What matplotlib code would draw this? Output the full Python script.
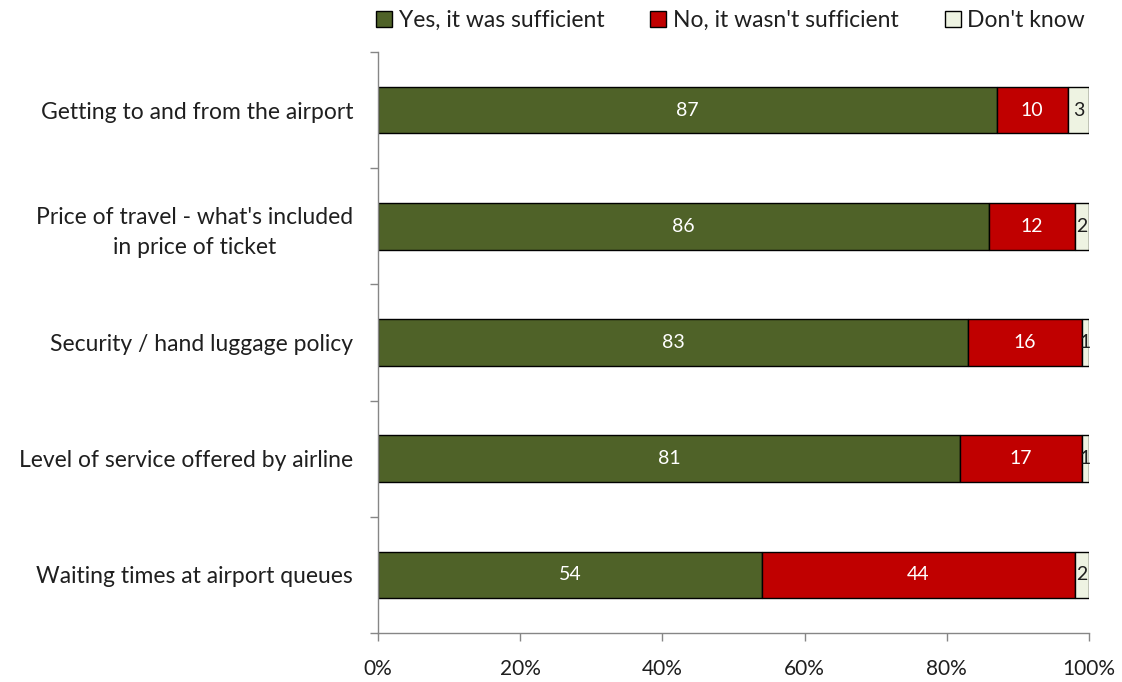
import matplotlib
matplotlib.use('Agg')
import matplotlib.pyplot as plt
import numpy as np

plt.rcParams['font.family'] = ['Lato', 'DejaVu Sans']

categories = ['Getting to and from the airport',
              "Price of travel - what's included\nin price of ticket",
              'Security / hand luggage policy',
              'Level of service offered by airline',
              'Waiting times at airport queues']
yes_vals = [87, 86, 83, 81, 54]
no_vals = [10, 12, 16, 17, 44]
dk_vals = [3, 2, 1, 1, 2]
series_names = ['Yes, it was sufficient', "No, it wasn't sufficient", "Don't know"]
x_ticks = [0, 20, 40, 60, 80, 100]

colors = ['#4F6228', '#C00000', '#EEF3E2']
text_colors = ['white', 'white', '#1F1F1F']

# 100% stacked: each row is scaled to its own total
totals = np.array(yes_vals) + np.array(no_vals) + np.array(dk_vals)

fig = plt.figure(figsize=(11.22, 6.82), dpi=100)
ax = fig.add_axes([0.3369, 0.0718, 0.6337, 0.852])

y = np.arange(len(categories))
left = np.zeros(len(categories))
for vals, name, c, tc in zip([yes_vals, no_vals, dk_vals], series_names, colors, text_colors):
    widths = np.array(vals) / totals * 100
    ax.barh(y, widths, left=left, height=0.4, color=c, edgecolor='black',
            linewidth=1, label=name)
    for yi, l, w, v in zip(y, left, widths, vals):
        ax.text(l + w / 2, yi, str(v), ha='center', va='center',
                color=tc, fontsize=14)
    left += widths

ax.set_xlim(0, 100)
ax.set_ylim(len(categories) - 0.5, -0.5)
ax.set_xticks(x_ticks)
ax.set_xticklabels(['{}%'.format(t) for t in x_ticks], fontsize=15, color='#1F1F1F')
ax.tick_params(axis='x', direction='out', length=6, width=1, color='#868686', pad=13)

# category boundaries get the tick marks, names sit on minor ticks
ax.set_yticks(np.arange(-0.5, len(categories), 1))
ax.set_yticklabels([])
ax.set_yticks(y, minor=True)
ax.set_yticklabels(categories, minor=True, fontsize=16.5, color='#1F1F1F',
                   ha='right', multialignment='center', linespacing=1.5)
ax.tick_params(axis='y', which='major', direction='out', length=6, width=1, color='#868686')
ax.tick_params(axis='y', which='minor', length=0, pad=18)

for s in ['top', 'right']:
    ax.spines[s].set_visible(False)
for s in ['left', 'bottom']:
    ax.spines[s].set_color('#868686')
    ax.spines[s].set_linewidth(1)

fig.legend(loc='center', bbox_to_anchor=(0.651, 0.97), ncol=3, frameon=False,
           fontsize=16.5, handlelength=0.7, handleheight=0.7, handletextpad=0.3,
           columnspacing=2.0, labelcolor='#1F1F1F')

fig.savefig('out.png', dpi=100)
